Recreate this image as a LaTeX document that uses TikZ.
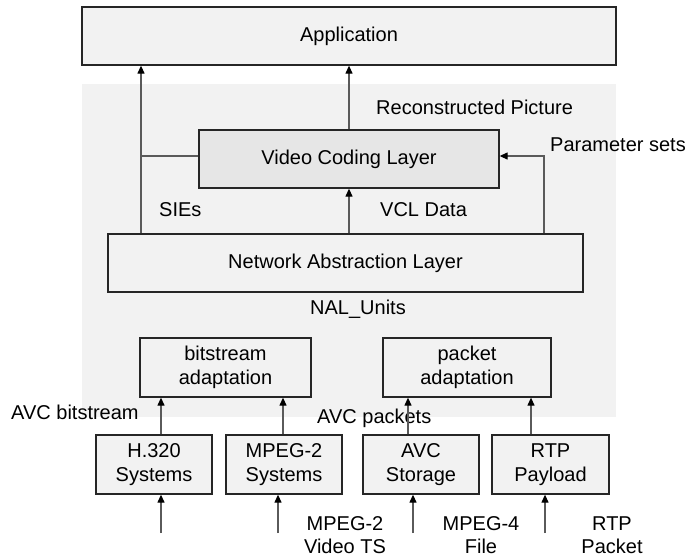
\documentclass[tikz,border=0pt]{standalone}
\usepackage{fontspec}
\setmainfont{Liberation Sans}
\usetikzlibrary{arrows.meta}

\definecolor{panel}{HTML}{F2F2F2}
\definecolor{vclfill}{HTML}{E6E6E6}
\definecolor{wire}{HTML}{5A5A5A}
\definecolor{edge}{HTML}{262626}

\tikzset{
  box/.style={draw=edge, line width=1.3pt, fill=panel, inner sep=0pt,
              align=center, font=\fontsize{20}{24}\selectfont},
  lbl/.style={inner sep=0pt, font=\fontsize{20}{23}\selectfont, align=center},
  arr/.style={draw=wire, line width=1.2pt,
              -{Triangle[length=8pt,width=7pt,color=black]}},
  wire/.style={draw=wire, line width=1.2pt}
}

\begin{document}
\begin{tikzpicture}[x=1pt,y=-1pt]
  \useasboundingbox (0,0) rectangle (690,557);

  % shaded protocol-stack region
  \fill[panel] (82,84) rectangle (616,417);

  % layers
  \node[box, minimum width=534pt, minimum height=58pt] (app) at (349,36) {Application};
  \node[box, fill=vclfill, minimum width=300pt, minimum height=58pt] (vcl) at (349,159) {Video Coding Layer};
  \node[box, minimum width=475pt, minimum height=58pt] (nal) at (345.5,263) {Network Abstraction Layer};

  % adaptation blocks
  \node[box, minimum width=171pt, minimum height=59pt] (bsa) at (225.5,367.5) {bitstream\\adaptation};
  \node[box, minimum width=168pt, minimum height=59pt] (pka) at (467,367.5) {packet\\adaptation};

  % transport systems
  \node[box, minimum width=116pt, minimum height=59pt] (h320) at (154,464.5) {H.320\\Systems};
  \node[box, minimum width=116pt, minimum height=59pt] (mp2)  at (284,464.5) {MPEG-2\\Systems};
  \node[box, minimum width=116pt, minimum height=59pt] (avc)  at (421,464.5) {AVC\\Storage};
  \node[box, minimum width=117pt, minimum height=59pt] (rtp)  at (550.5,464.5) {RTP\\Payload};

  % labels
  \node[lbl, anchor=west] (lrec) at (376,107) {Reconstructed Picture};
  \node[lbl, anchor=west] (lpar) at (550,145) {Parameter sets};
  \node[lbl, anchor=west] (lsie) at (159,210) {SIEs};
  \node[lbl, anchor=west] (lvcl) at (380,210) {VCL Data};
  \node[lbl] (lnal) at (358,309) {NAL\_Units};
  \node[lbl, anchor=west] (lbit) at (11,412) {AVC bitstream};
  \node[lbl, anchor=west] (lpkt) at (317,418) {AVC packets};
  \node[lbl] (lts)  at (345,535) {MPEG-2\\Video TS};
  \node[lbl] (lmp4) at (481,535) {MPEG-4\\File};
  \node[lbl] (lrtp) at (612,535) {RTP\\Packet};

  % helper coordinates
  \coordinate (sx) at (141,0);
  \coordinate (px) at (544,0);
  \coordinate (jn) at (0,156);
  \coordinate (u1) at (161,0);
  \coordinate (u2) at (283,0);
  \coordinate (u3) at (408,0);
  \coordinate (u4) at (531,0);
  \coordinate (in1) at (161,533);
  \coordinate (in2) at (278,533);
  \coordinate (in3) at (413,533);
  \coordinate (in4) at (545,533);

  % NAL to application and VCL
  \draw[arr] (sx |- nal.north) -- (sx |- app.south);
  \draw[wire] (sx |- jn) -- (vcl.west |- jn);
  \draw[arr] (vcl.north) -- (app.south);
  \draw[arr] (vcl.south |- nal.north) -- (vcl.south);
  \draw[arr] (px |- nal.north) |- (vcl.east |- jn);

  % systems to adaptation
  \draw[arr] (u1 |- h320.north) -- (u1 |- bsa.south);
  \draw[arr] (u2 |- mp2.north) -- (u2 |- bsa.south);
  \draw[arr] (u3 |- avc.north) -- (u3 |- pka.south);
  \draw[arr] (u4 |- rtp.north) -- (u4 |- pka.south);

  % external inputs
  \draw[arr] (in1) -- (in1 |- h320.south);
  \draw[arr] (in2) -- (in2 |- mp2.south);
  \draw[arr] (in3) -- (in3 |- avc.south);
  \draw[arr] (in4) -- (in4 |- rtp.south);
\end{tikzpicture}
\end{document}
